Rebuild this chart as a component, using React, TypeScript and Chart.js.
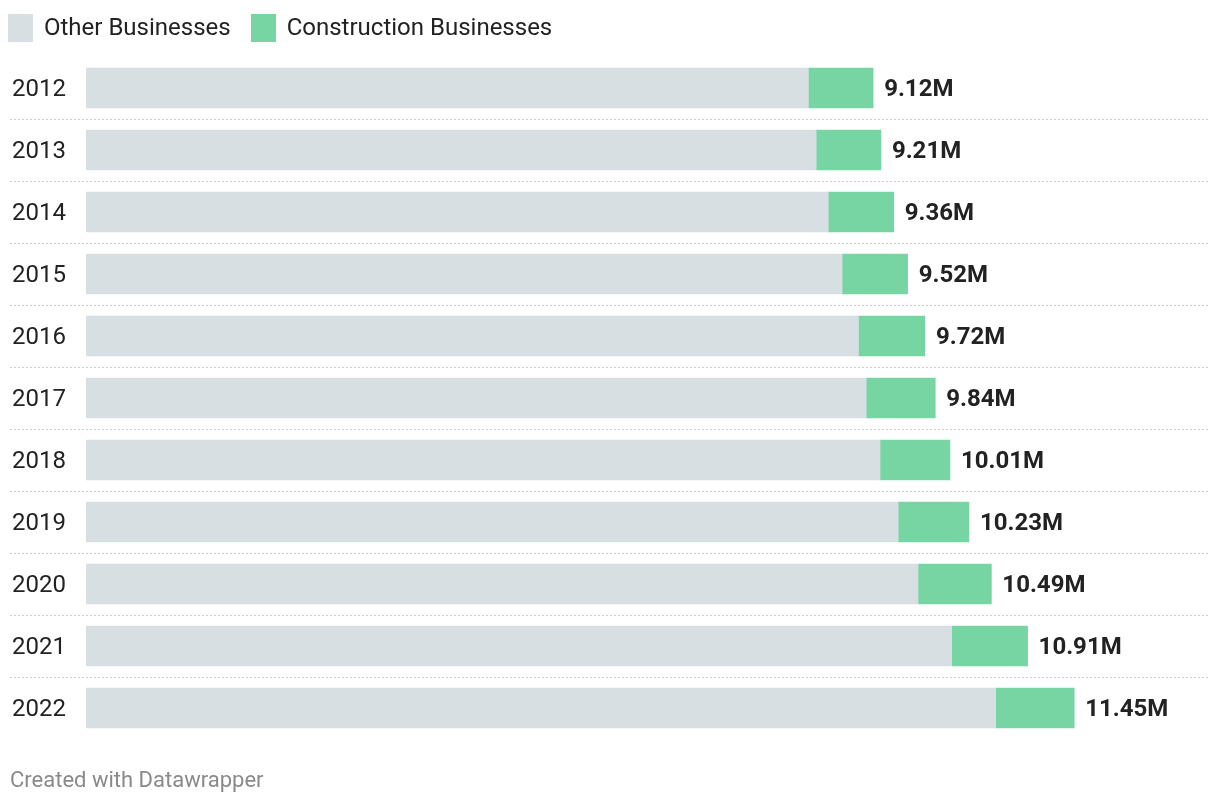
import React, { useEffect, useRef } from "react";
import { Chart, registerables } from "chart.js";

Chart.register(...registerables);

const years = ["2012", "2013", "2014", "2015", "2016", "2017", "2018", "2019", "2020", "2021", "2022"];
const otherBusinesses = [8.37, 8.46, 8.6, 8.76, 8.95, 9.04, 9.2, 9.41, 9.64, 10.03, 10.54];
const constructionBusinesses = [0.75, 0.75, 0.76, 0.76, 0.77, 0.8, 0.81, 0.82, 0.85, 0.88, 0.91];

const OTHER_COLOR = "#d8dfe2";
const CONSTR_COLOR = "#76d5a3";
const FONT = "Roboto, 'Noto Sans', sans-serif";

const separatorPlugin = {
  id: "separators",
  beforeDatasetsDraw(chart: any) {
    const { ctx, chartArea } = chart;
    const y = chart.scales.y;
    ctx.save();
    ctx.strokeStyle = "#cccccc";
    ctx.lineWidth = 1;
    ctx.setLineDash([2, 2]);
    for (let i = 0; i < years.length - 1; i++) {
      const yy = Math.round((y.getPixelForValue(i) + y.getPixelForValue(i + 1)) / 2) + 0.5;
      ctx.beginPath();
      ctx.moveTo(10, yy);
      ctx.lineTo(chartArea.right, yy);
      ctx.stroke();
    }
    ctx.restore();
  },
};

const totalsPlugin = {
  id: "totals",
  afterDatasetsDraw(chart: any) {
    const { ctx } = chart;
    const x = chart.scales.x;
    const y = chart.scales.y;
    ctx.save();
    ctx.font = `bold 24px ${FONT}`;
    ctx.fillStyle = "#222222";
    ctx.textAlign = "left";
    ctx.textBaseline = "middle";
    years.forEach((_, i) => {
      const total = otherBusinesses[i] + constructionBusinesses[i];
      const px = x.getPixelForValue(total);
      ctx.fillText(total.toFixed(2) + "M", px + 11, y.getPixelForValue(i) + 2);
    });
    ctx.restore();
  },
};

export default function App() {
  const canvasRef = useRef<HTMLCanvasElement | null>(null);

  useEffect(() => {
    if (!canvasRef.current) return;
    const chart = new Chart(canvasRef.current, {
      type: "bar",
      data: {
        labels: years,
        datasets: [
          {
            label: "Other Businesses",
            data: otherBusinesses,
            backgroundColor: OTHER_COLOR,
            barThickness: 40,
          },
          {
            label: "Construction Businesses",
            data: constructionBusinesses,
            backgroundColor: CONSTR_COLOR,
            barThickness: 40,
          },
        ],
      },
      options: {
        indexAxis: "y",
        animation: false,
        responsive: false,
        maintainAspectRatio: false,
        layout: { padding: { left: 12, right: 12, top: 57, bottom: 67 } },
        plugins: {
          legend: { display: false },
          tooltip: { enabled: false },
        },
        scales: {
          x: {
            stacked: true,
            display: false,
            min: 0,
            max: 13,
          },
          y: {
            stacked: true,
            grid: { display: false },
            border: { display: false },
            ticks: {
              crossAlign: "far",
              color: "#222222",
              font: { family: FONT, size: 24 },
              padding: 0,
              labelOffset: 2,
            },
            afterFit(scale: any) {
              scale.width = 74;
            },
          },
        },
      },
      plugins: [separatorPlugin, totalsPlugin],
    } as any);
    return () => chart.destroy();
  }, []);

  const swatch = (color: string): React.CSSProperties => ({
    display: "inline-block",
    width: 25,
    height: 28,
    background: color,
    marginRight: 11,
  });

  return (
    <div style={{ position: "fixed", left: 0, top: 0, width: 1220, height: 806, background: "#fff", fontFamily: FONT }}>
      <canvas ref={canvasRef} width={1220} height={806} style={{ position: "absolute", left: 0, top: 0 }} />
      <div
        style={{
          position: "absolute",
          left: 8,
          top: 14,
          display: "flex",
          alignItems: "center",
          fontSize: 24,
          color: "#222",
          lineHeight: "28px",
        }}
      >
        <span style={swatch(OTHER_COLOR)} />
        <span style={{ marginRight: 20, position: "relative", top: -1 }}>Other Businesses</span>
        <span style={swatch(CONSTR_COLOR)} />
        <span style={{ position: "relative", top: -1 }}>Construction Businesses</span>
      </div>
      <div
        style={{
          position: "absolute",
          left: 10,
          top: 766,
          fontSize: 22,
          color: "#8a8a8a",
          lineHeight: "28px",
        }}
      >
        Created with Datawrapper
      </div>
    </div>
  );
}
